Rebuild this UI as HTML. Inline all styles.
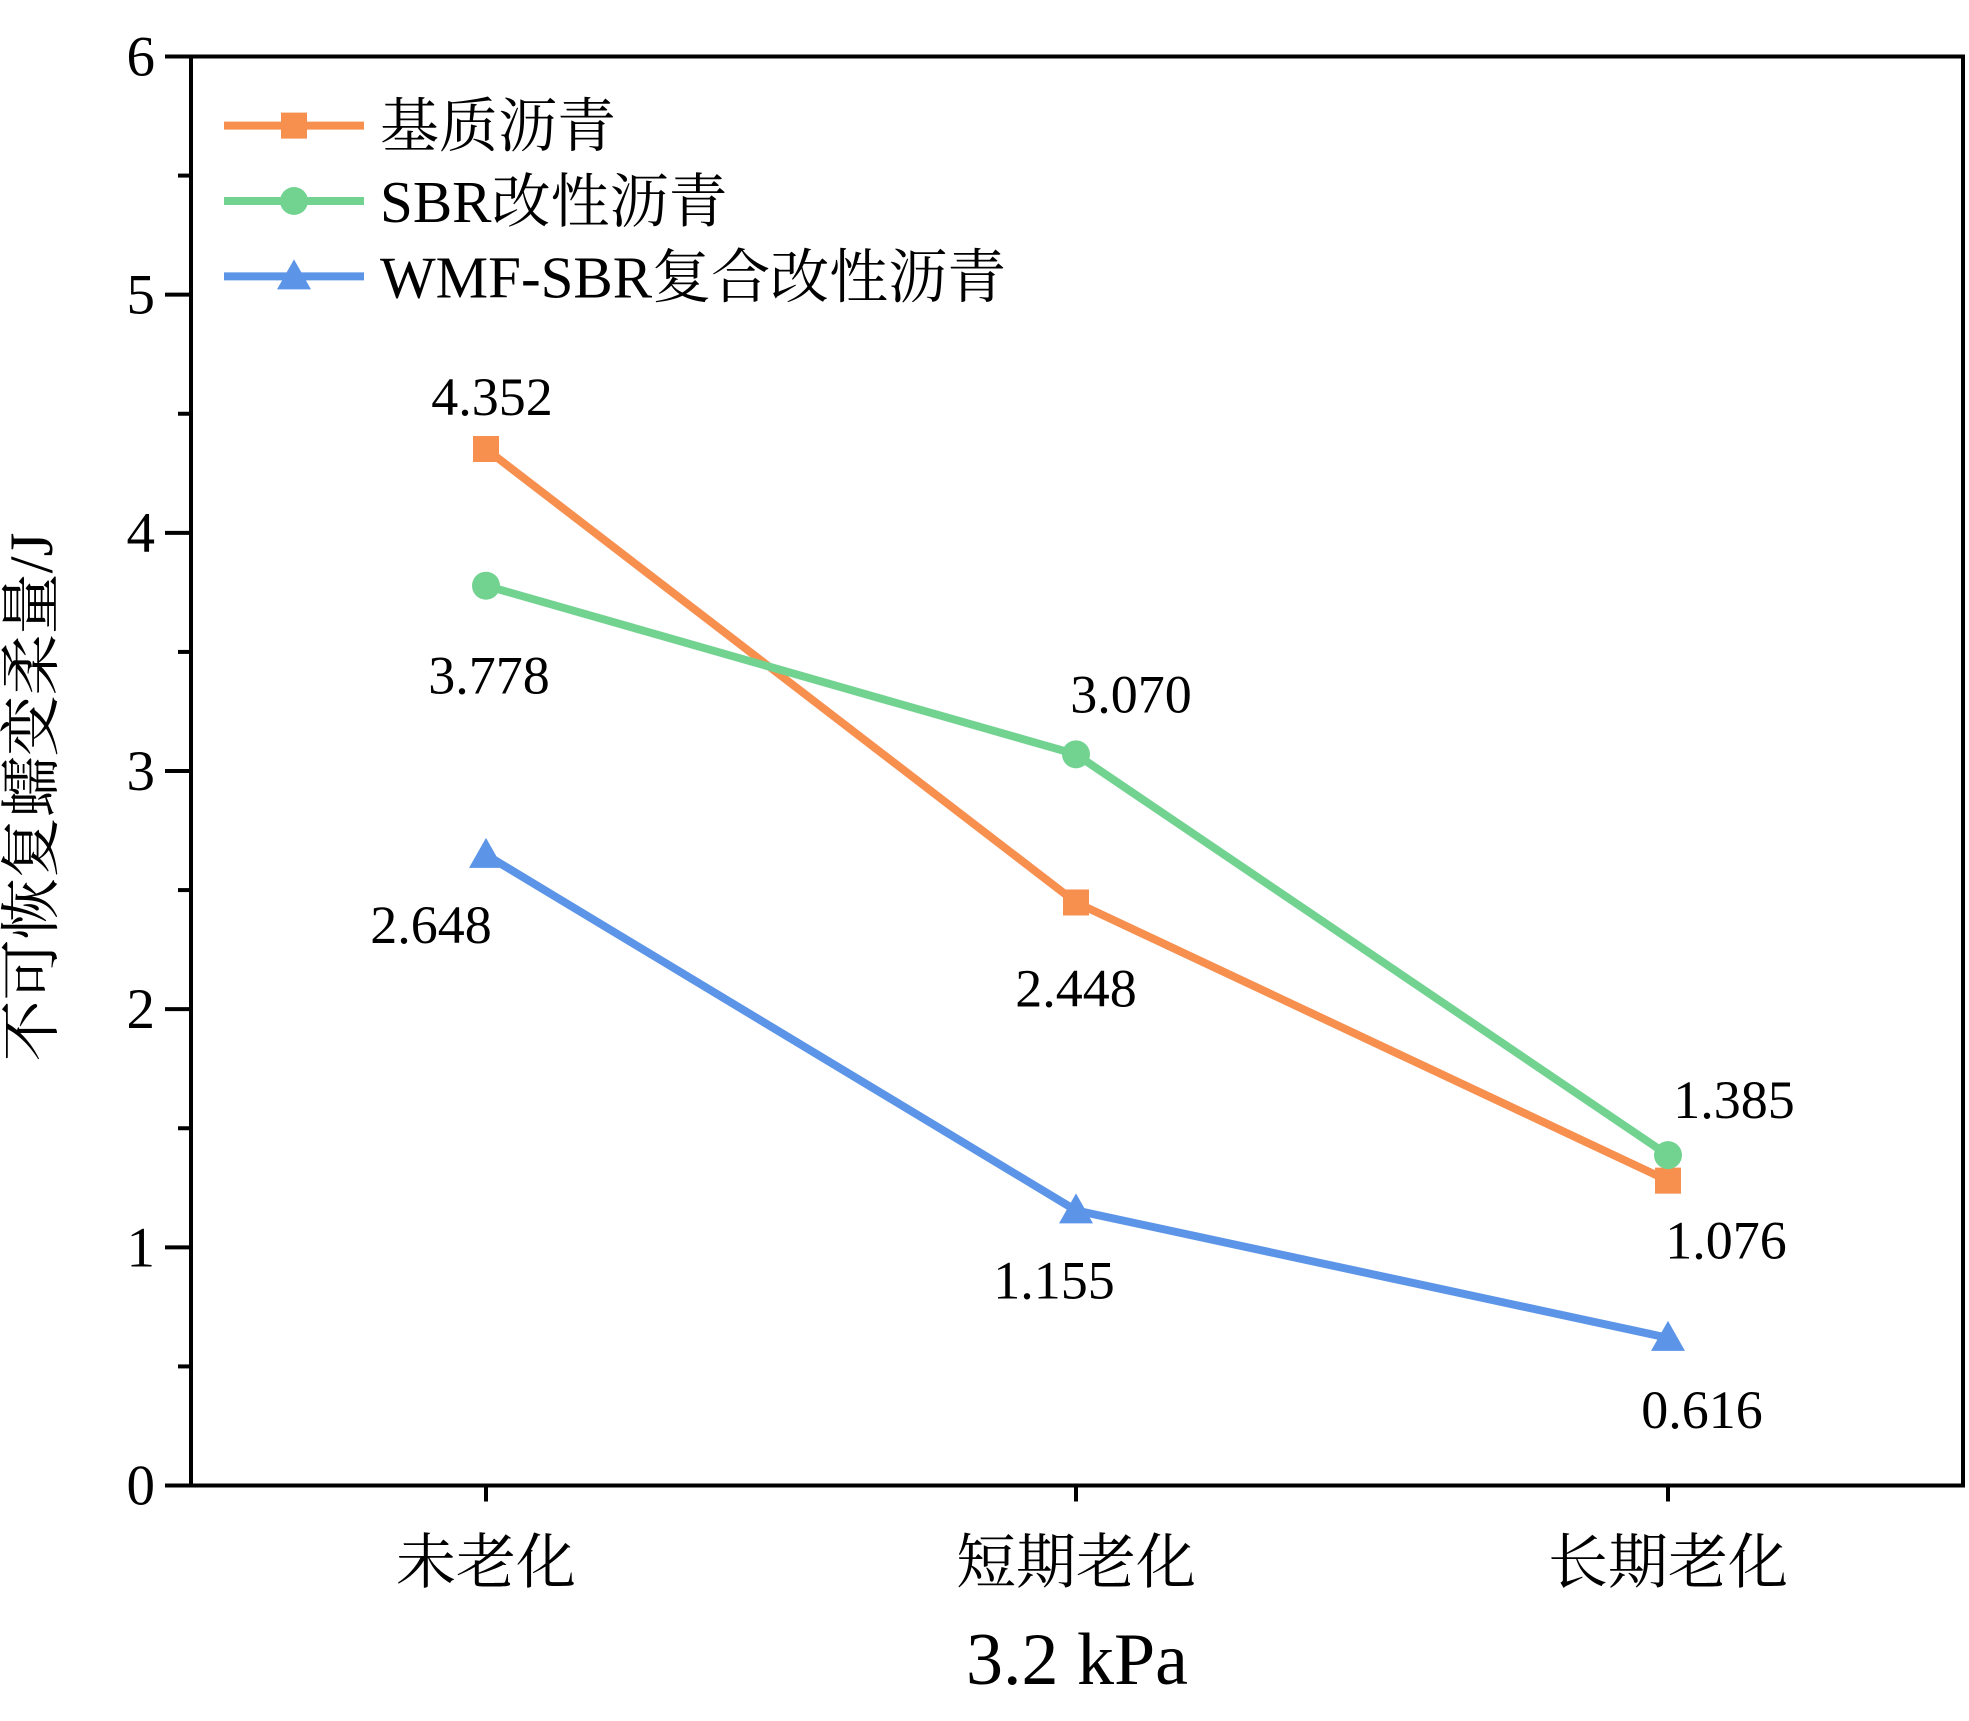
<!DOCTYPE html>
<html><head><meta charset="utf-8"><style>
html,body{margin:0;padding:0;background:#fff}
svg{display:block}
text{font-family:"Liberation Serif","Noto Serif CJK SC",serif;fill:#000}
</style></head><body>
<svg id="chart" width="1969" height="1721" viewBox="0 0 1969 1721" xmlns="http://www.w3.org/2000/svg">
<g id="axes"></g>
<g id="series"></g>
<g id="legend"></g>
</svg>
<script>
const categories = ["未老化","短期老化","长期老化"];
const seriesNames = ["基质沥青","SBR改性沥青","WMF-SBR复合改性沥青"];
const baseValues = [4.352, 2.448, 1.28];
const sbrValues = [3.778, 3.070, 1.387];
const wmfValues = [2.648, 1.155, 0.620];
const baseLabels = ["4.352","2.448","1.076"];
const sbrLabels = ["3.778","3.070","1.385"];
const wmfLabels = ["2.648","1.155","0.616"];
const yTicks = [0,1,2,3,4,5,6];

const NS="http://www.w3.org/2000/svg";
const L=191,R=1963,T=56.5,B=1485.5;
const catX=[486,1076,1668];
function x(i){return catX[i];}
function y(v){return B-(v/6)*(B-T);}
function mk(tag,attrs,parent,txt){const e=document.createElementNS(NS,tag);for(const k in attrs)e.setAttribute(k,attrs[k]);if(txt!==undefined)e.textContent=txt;parent.appendChild(e);return e;}
const axes=document.getElementById('axes'),ser=document.getElementById('series'),leg=document.getElementById('legend');

let fr=mk('rect',{x:L,y:T,width:R-L,height:B-T,fill:'none',stroke:'#000','stroke-width':4},axes);


yTicks.forEach(v=>{
  let t=mk('line',{x1:L-26,x2:L,y1:y(v),y2:y(v),stroke:'#000','stroke-width':4},axes);
  
  
  let lb=mk('text',{x:L-36,y:y(v)+19,'text-anchor':'end','font-size':57},axes,String(v));
  
  
  if(v<6){let m=mk('line',{x1:L-13,x2:L,y1:y(v+0.5),y2:y(v+0.5),stroke:'#000','stroke-width':4},axes);
  
  }
});
categories.forEach((c,i)=>{
  let t=mk('line',{x1:x(i),x2:x(i),y1:B,y2:B+16,stroke:'#000','stroke-width':4},axes);
  
  
  let lb=mk('text',{x:x(i),y:1583,'text-anchor':'middle','font-size':60},axes,c);
  
  
});
let xt=mk('text',{x:1077,y:1684,'text-anchor':'middle','font-size':74},axes,'3.2 kPa');


let yt=mk('text',{x:0,y:0,'text-anchor':'middle','font-size':61,transform:'translate(52,797) rotate(-90)'},axes,'不可恢复蠕变柔量/J');



const colors=['#F78F4F','#72D391','#5C95E8'];
const allVals=[baseValues,sbrValues,wmfValues];
const allLabels=[baseLabels,sbrLabels,wmfLabels];
const labelOff=[[[6,-52],[0,86],[58,60]],[[3,90],[55,-60],[66,-55]],[[-55,70],[-22,70],[34,72]]];
function marker(k,cx,cy,g){
  if(k===0) return mk('rect',{x:cx-13,y:cy-13,width:26,height:26,fill:colors[0]},g);
  if(k===1) return mk('circle',{cx:cx,cy:cy,r:14,fill:colors[1]},g);
  return mk('polygon',{points:`${cx},${cy-17} ${cx-17},${cy+13} ${cx+17},${cy+13}`,fill:colors[2]},g);
}
allVals.forEach((vals,k)=>{
  const g=mk('g',{},ser);
  
  
  const pl=mk('polyline',{points:vals.map((v,i)=>x(i)+','+y(v)).join(' '),fill:'none',stroke:colors[k],'stroke-width':8},g);
  
  
  vals.forEach((v,i)=>{
    const m=marker(k,x(i),y(v),g);
    
    
    const t=mk('text',{x:x(i)+labelOff[k][i][0],y:y(v)+labelOff[k][i][1]+18,'text-anchor':'middle','font-size':54},g,allLabels[k][i]);
    
    
  });
});
seriesNames.forEach((n,k)=>{
  const yy=125.6+k*75.4;
  const g=mk('g',{},leg);
  
  
  mk('line',{x1:224,x2:364,y1:yy,y2:yy,stroke:colors[k],'stroke-width':8},g);
  marker(k,294,yy,g);
  mk('text',{x:380,y:yy+21,'font-size':59},g,n);
});
</script>
</body></html>
